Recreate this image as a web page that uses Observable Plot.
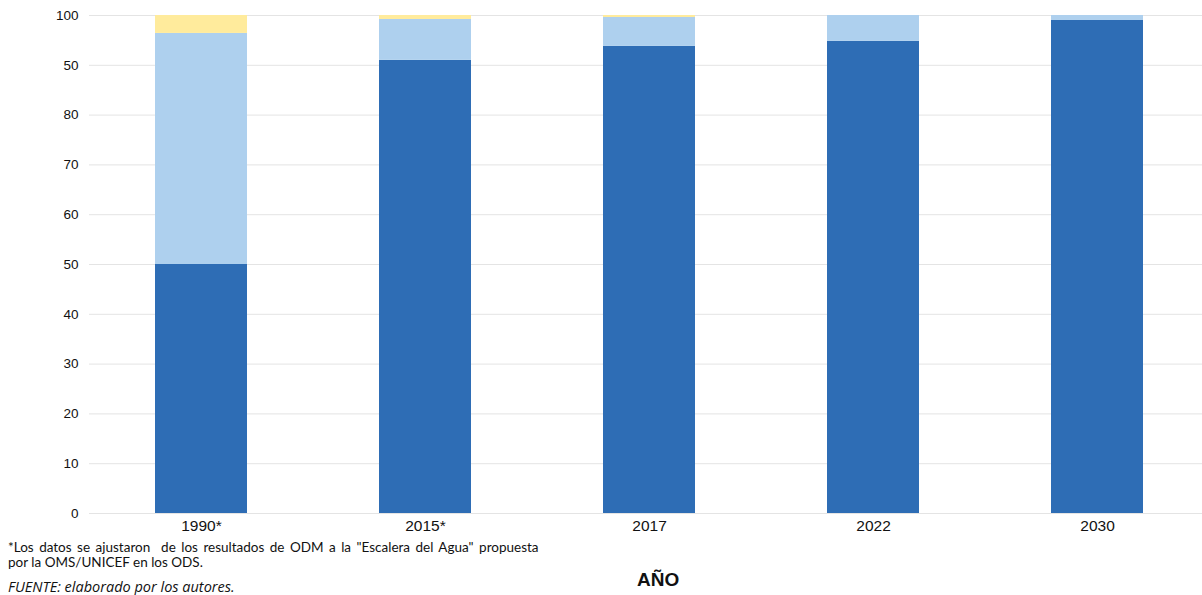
<!DOCTYPE html>
<html>
<head>
<meta charset="utf-8">
<script src="https://cdn.jsdelivr.net/npm/d3@7"></script>
<script src="https://cdn.jsdelivr.net/npm/@observablehq/plot@0.6"></script>
<style>
  html, body { margin: 0; padding: 0; background: #fff; }
  #wrap { position: relative; width: 1202px; height: 595px; overflow: hidden; }
  #chart { position: absolute; left: 0; top: 0; }
  .note { position: absolute; left: 8px; font-family: Lato, "Open Sans", sans-serif; font-size: 13.5px; color: #111; line-height: 15px; white-space: nowrap; }
  #xlabel { position: absolute; top: 569px; left: 637px; font-family: "Liberation Sans", Arial, sans-serif; font-weight: bold; font-size: 19px; color: #111; }
</style>
</head>
<body>
<div id="wrap">
  <div id="chart"></div>
  <div class="note" style="top:540px"><span style="word-spacing:2px">*Los datos se ajustaron&nbsp; de los resultados de ODM a la "Escalera del Agua" propuesta</span><br>por la OMS/UNICEF en los ODS.</div>
  <div class="note" style="top:579px;font-style:italic;font-family:'Open Sans',Lato,sans-serif;font-size:14.5px;line-height:15px">FUENTE: elaborado por los autores.</div>
  <div id="xlabel">AÑO</div>
</div>
<script>
const years = ["1990*", "2015*", "2017", "2022", "2030"];
const seriesNames = ["Gestionado de forma segura", "Básico", "Otro"];
const seriesA = [50, 91.0, 93.8, 94.8, 99.0];
const seriesB = [46.4, 8.2, 5.8, 5.2, 1.0];
const seriesC = [3.6, 0.8, 0.4, 0, 0];
const colors = ["#2E6DB5", "#AED0EE", "#FFEB9C"];
const yTicks = [0, 10, 20, 30, 40, 50, 60, 70, 80, 90, 100];
const yTickLabels = ["0", "10", "20", "30", "40", "50", "60", "70", "80", "50", "100"];

const data = [];
[seriesA, seriesB, seriesC].forEach((vals, si) => {
  vals.forEach((v, i) => data.push({year: years[i], series: seriesNames[si], value: v}));
});

const chart = Plot.plot({
  width: 1202,
  height: 540,
  marginTop: 15,
  marginBottom: 27,
  marginLeft: 89,
  marginRight: 0,
  style: {fontFamily: "'Liberation Sans', Arial, sans-serif", fontSize: "13.5px", color: "#111", background: "#fff"},
  x: {domain: years, range: [89, 1209], paddingInner: 0.59, paddingOuter: 0.295, align: 0.5, label: null, tickSize: 0, tickPadding: 6},
  y: {domain: [0, 100], label: null, ticks: yTicks, tickSize: 0, tickPadding: 11,
      tickFormat: d => yTickLabels[yTicks.indexOf(d)]},
  color: {domain: seriesNames, range: colors},
  marks: [
    Plot.ruleY(yTicks, {stroke: "#e4e4e4", strokeWidth: 1}),
    Plot.barY(data, {x: "year", y: "value", fill: "series", order: seriesNames}),
    Plot.ruleY([0], {stroke: "#e4e4e4", strokeWidth: 1}),
    Plot.axisX({tickSize: 0, tickPadding: 6, fontSize: 15.5})
  ]
});
document.getElementById("chart").appendChild(chart);
</script>
</body>
</html>
